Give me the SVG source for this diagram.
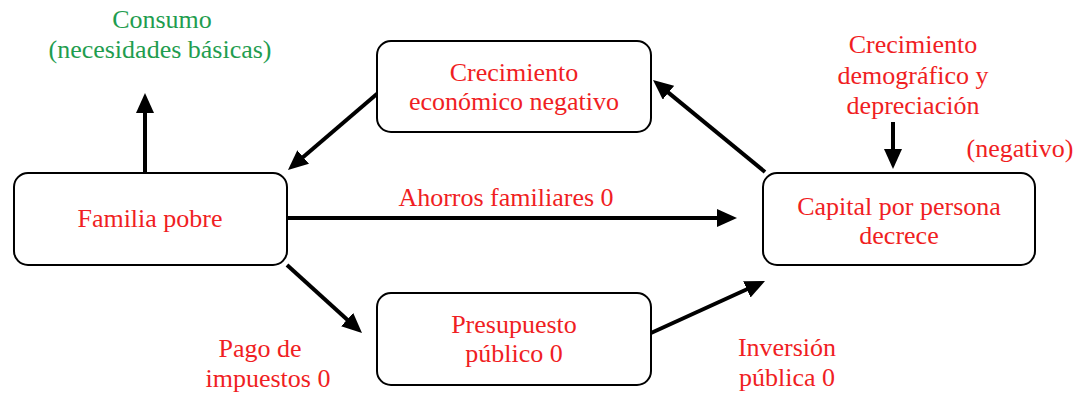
<svg xmlns="http://www.w3.org/2000/svg" width="1075" height="394" viewBox="0 0 1075 394">
<style>
.box{fill:#fff;stroke:#000;stroke-width:2}
.t{font-family:"Liberation Serif","Times New Roman",serif;font-size:26px;text-anchor:middle;fill:#f01e23}
.g{fill:#1f9d4f}
.c{stroke:#000;stroke-width:4;fill:none;marker-end:url(#ah)}
</style>
<defs>
<marker id="ah" markerUnits="userSpaceOnUse" markerWidth="20" markerHeight="18" refX="8" refY="9" orient="auto" viewBox="0 0 20 18">
<path d="M0,0 L20,9 L0,18 z" fill="#000"/>
</marker>
</defs>
<rect width="1075" height="394" fill="#fff"/>
<g id="connectors">
<line class="c" x1="145" y1="173" x2="145" y2="105"/>
<line class="c" x1="378" y1="93" x2="297.1" y2="162.2"/>
<line class="c" x1="287" y1="218" x2="725" y2="218"/>
<line class="c" x1="287" y1="265" x2="353.1" y2="324.9"/>
<line class="c" x1="651" y1="333" x2="754.1" y2="286"/>
<line class="c" x1="765" y1="172" x2="662.3" y2="87.6"/>
<line class="c" x1="893" y1="122" x2="893" y2="157"/>
</g>
<g id="familia">
<rect class="box" x="14" y="173" width="273" height="92" rx="14"/>
<text class="t" x="150" y="227">Familia pobre</text>
</g>
<g id="crecimiento">
<rect class="box" x="377" y="41" width="274" height="91" rx="14"/>
<text class="t" x="514" y="81">Crecimiento</text>
<text class="t" x="514" y="110">económico negativo</text>
</g>
<g id="presupuesto">
<rect class="box" x="377" y="293" width="274" height="92" rx="14"/>
<text class="t" x="514" y="333">Presupuesto</text>
<text class="t" x="514" y="362">público 0</text>
</g>
<g id="capital">
<rect class="box" x="763" y="173" width="272" height="92" rx="14"/>
<text class="t" x="899" y="215">Capital por persona</text>
<text class="t" x="899" y="244">decrece</text>
</g>
<g id="labels">
<text class="t g" x="162" y="28">Consumo</text>
<text class="t g" x="160" y="58">(necesidades básicas)</text>
<text class="t" x="506" y="206">Ahorros familiares 0</text>
<text class="t" x="913" y="53">Crecimiento</text>
<text class="t" x="913" y="84">demográfico y</text>
<text class="t" x="913" y="114">depreciación</text>
<text class="t" x="1020" y="157">(negativo)</text>
<text class="t" x="260" y="357">Pago de</text>
<text class="t" x="268" y="387">impuestos 0</text>
<text class="t" x="787" y="356">Inversión</text>
<text class="t" x="787" y="386">pública 0</text>
</g>
</svg>
